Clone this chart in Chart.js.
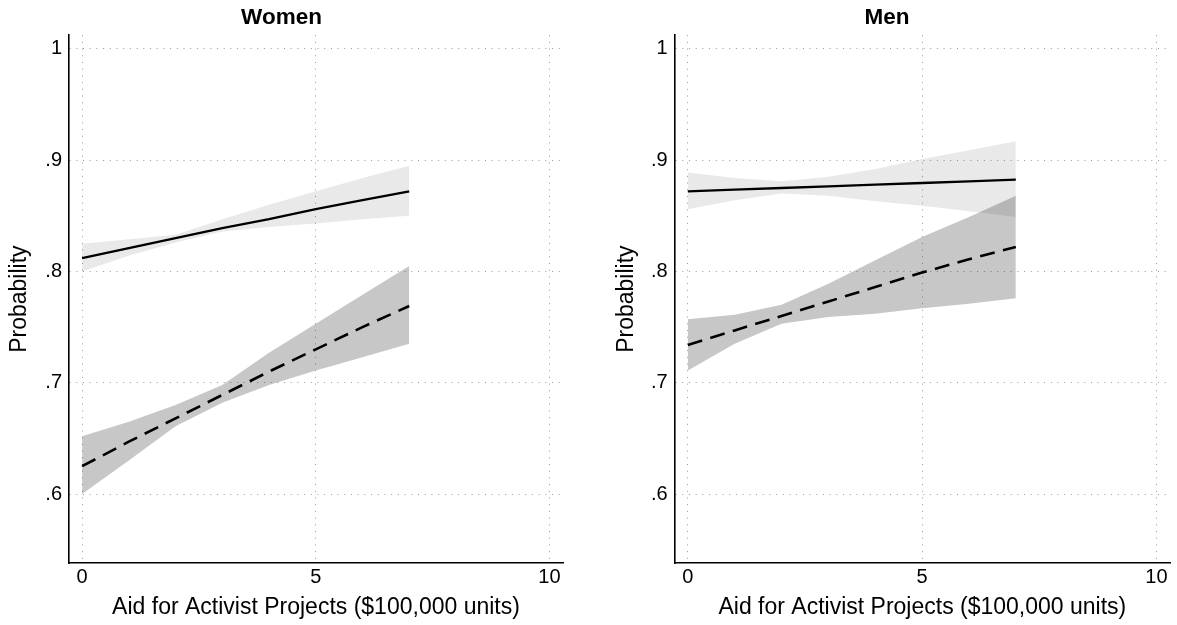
<!DOCTYPE html>
<html>
<head>
<meta charset="utf-8">
<script src="https://cdn.jsdelivr.net/npm/chart.js@4"></script>
<style>
  body { margin: 0; background: #fff; }
  #wrap { position: relative; width: 1177px; height: 625px; }
  canvas { position: absolute; top: 0; }
</style>
</head>
<body>
<div id="wrap">
  <canvas id="graphWomen" width="590" height="625" style="left:0px"></canvas>
  <canvas id="graphMen" width="587" height="625" style="left:590px"></canvas>
</div>
<script>
// x values and ticks
var aid = [0, 1, 2, 3, 4, 5, 6, 7];
var xTicks = [0, 5, 10];
var yTicks = [0.6, 0.7, 0.8, 0.9, 1];
var yTickLabels = ['.6', '.7', '.8', '.9', '1'];

// Women
var women_solid = [0.812, 0.821, 0.830, 0.839, 0.847, 0.856, 0.864, 0.872];
var women_solid_hi = [0.825, 0.829, 0.833, 0.847, 0.860, 0.872, 0.884, 0.895];
var women_solid_lo = [0.800, 0.814, 0.826, 0.836, 0.840, 0.843, 0.847, 0.850];
var women_dash = [0.625, 0.647, 0.668, 0.689, 0.710, 0.730, 0.750, 0.769];
var women_dash_hi = [0.652, 0.665, 0.680, 0.698, 0.727, 0.753, 0.779, 0.805];
var women_dash_lo = [0.600, 0.630, 0.661, 0.682, 0.698, 0.711, 0.723, 0.735];

// Men
var men_solid = [0.872, 0.8735, 0.875, 0.8765, 0.878, 0.8795, 0.881, 0.8825];
var men_solid_hi = [0.889, 0.884, 0.881, 0.885, 0.892, 0.901, 0.909, 0.917];
var men_solid_lo = [0.856, 0.864, 0.870, 0.868, 0.863, 0.859, 0.854, 0.849];
var men_dash = [0.734, 0.747, 0.760, 0.773, 0.786, 0.799, 0.811, 0.822];
var men_dash_hi = [0.757, 0.761, 0.770, 0.789, 0.810, 0.831, 0.849, 0.868];
var men_dash_lo = [0.711, 0.735, 0.753, 0.759, 0.762, 0.767, 0.771, 0.776];

var FONT = "'Liberation Sans', Arial, Helvetica, sans-serif";

function pts(ys) {
    return aid.map(function (x, i) { return { x: x, y: ys[i] }; });
}

function band(ys, fill, color) {
    return {
        data: pts(ys),
        fill: fill,
        backgroundColor: color,
        borderColor: 'rgba(0,0,0,0)',
        borderWidth: 0,
        pointRadius: 0
    };
}

function makePanel(id, title, solid, solidHi, solidLo, dash, dashHi, dashLo, p) {
    var ctx = document.getElementById(id).getContext('2d');
    return new Chart(ctx, {
        type: 'line',
        data: {
            datasets: [
                { data: pts(solid), borderColor: '#000', borderWidth: 2.3, pointRadius: 0, fill: false },
                { data: pts(dash), borderColor: '#000', borderWidth: 2.6, borderDash: [15, 8.5], pointRadius: 0, fill: false },
                band(solidHi, '+1', 'rgba(0,0,0,0.085)'),
                band(solidLo, false, 'rgba(0,0,0,0)'),
                band(dashHi, '+1', 'rgba(0,0,0,0.22)'),
                band(dashLo, false, 'rgba(0,0,0,0)')
            ]
        },
        options: {
            responsive: false,
            animation: false,
            layout: { padding: { left: p.padL, right: p.padR, top: 0, bottom: 0 } },
            plugins: {
                legend: { display: false },
                tooltip: { enabled: false },
                filler: { drawTime: 'beforeDatasetsDraw' },
                title: {
                    display: true,
                    text: title,
                    color: '#000',
                    font: { family: FONT, size: 22.5, weight: 'bold' },
                    padding: { top: 4.1, bottom: 4.1 }
                }
            },
            scales: {
                x: {
                    type: 'linear',
                    min: -0.28,
                    max: 10.29,
                    afterBuildTicks: function (s) { s.ticks = xTicks.map(function (v) { return { value: v }; }); },
                    afterFit: function (s) { s.height = 62; },
                    grid: { color: 'rgba(0,0,0,0.4)', lineWidth: 1, drawTicks: false },
                    border: { display: true, color: '#000', width: 1.6, dash: [1, 5.7] },
                    ticks: {
                        color: '#000', padding: 2, maxRotation: 0,
                        font: { family: FONT, size: 20 },
                        callback: function (v) { return String(v); }
                    },
                    title: {
                        display: true,
                        text: 'Aid for Activist Projects ($100,000 units)',
                        color: '#000',
                        font: { family: FONT, size: 23 },
                        padding: { top: 0, bottom: 3.6 }
                    }
                },
                y: {
                    min: 0.538,
                    max: 1.0123,
                    afterBuildTicks: function (s) { s.ticks = yTicks.map(function (v) { return { value: v }; }); },
                    afterFit: function (s) { s.width = p.yWidth; },
                    grid: { color: 'rgba(0,0,0,0.4)', lineWidth: 1, drawTicks: false },
                    border: { display: true, color: '#000', width: 1.6, dash: [1, 5.7] },
                    ticks: {
                        color: '#000', padding: 7,
                        font: { family: FONT, size: 20 },
                        callback: function (v) { return yTickLabels[yTicks.indexOf(v)]; }
                    },
                    title: {
                        display: true,
                        text: 'Probability',
                        color: '#000',
                        font: { family: FONT, size: 23 },
                        padding: { top: p.yTitlePad, bottom: 0 }
                    }
                }
            }
        }
    });
}

var womenChart = makePanel('graphWomen', 'Women',
    women_solid, women_solid_hi, women_solid_lo, women_dash, women_dash_hi, women_dash_lo,
    { padL: 0, padR: 27, yWidth: 69, yTitlePad: 6 });

var menChart = makePanel('graphMen', 'Men',
    men_solid, men_solid_hi, men_solid_lo, men_dash, men_dash_hi, men_dash_lo,
    { padL: 14, padR: 7, yWidth: 70.7, yTitlePad: 9 });
</script>
</body>
</html>
